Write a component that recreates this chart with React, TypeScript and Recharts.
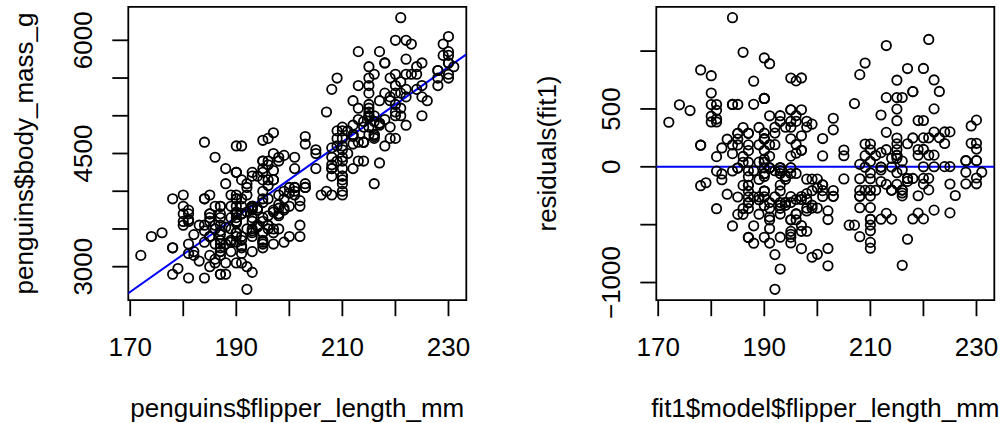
import React from 'react';
import {
  ScatterChart,
  Scatter,
  XAxis,
  YAxis,
  ReferenceLine,
  ReferenceArea,
} from 'recharts';

// [flipper_length_mm, body_mass_g], rows with NA dropped (as lm does)
const adelie: [number, number][] = [
  [181, 3750], [186, 3800], [195, 3250], [193, 3450], [190, 3650], [181, 3625], [195, 4675], [193, 3475], [190, 4250], [186, 3300],
  [180, 3700], [182, 3200], [191, 3800], [198, 4400], [185, 3700], [195, 3450], [197, 4500], [184, 3325], [194, 4200], [174, 3400],
  [180, 3600], [189, 3800], [185, 3950], [180, 3800], [187, 3800], [183, 3550], [187, 3200], [172, 3150], [180, 3950], [178, 3250],
  [178, 3900], [188, 3300], [184, 3900], [195, 3325], [196, 4150], [190, 3950], [180, 3550], [181, 3300], [184, 4650], [182, 3150],
  [195, 3900], [186, 3100], [196, 4400], [185, 3000], [190, 4600], [182, 3425], [179, 2975], [190, 3450], [191, 4150], [186, 3500],
  [188, 4300], [190, 3450], [200, 4050], [187, 2900], [191, 3700], [186, 3550], [193, 3800], [181, 2850], [194, 3750], [185, 3150],
  [195, 4400], [185, 3600], [192, 4050], [184, 2850], [192, 3950], [195, 3350], [188, 4100], [190, 3050], [198, 4450], [190, 3600],
  [190, 3900], [196, 3550], [197, 4150], [190, 3700], [195, 4250], [191, 3700], [184, 3900], [187, 3550], [195, 4000], [189, 3200],
  [196, 4700], [187, 3800], [193, 4200], [191, 3350], [194, 3550], [190, 3800], [189, 3500], [189, 3950], [190, 3600], [202, 3550],
  [205, 4300], [185, 3400], [186, 4450], [187, 3300], [208, 4300], [190, 3700], [196, 4350], [178, 2900], [192, 4100], [192, 3725],
  [203, 4725], [183, 3075], [190, 4250], [193, 2925], [184, 3550], [199, 3750], [190, 3900], [181, 3175], [197, 4775], [198, 3825],
  [191, 4600], [193, 3200], [197, 4275], [191, 3900], [196, 4075], [188, 2900], [199, 3775], [189, 3350], [189, 3325], [187, 3150],
  [198, 3500], [176, 3450], [202, 3875], [186, 3050], [199, 4000], [191, 3275], [195, 4300], [191, 3050], [210, 4000], [190, 3325],
  [197, 3500], [193, 3500], [199, 4475], [187, 3425], [190, 3900], [191, 3175], [200, 3975], [185, 3400], [193, 4250], [193, 3400],
  [187, 3475], [188, 3050], [190, 3725], [192, 3000], [185, 3650], [190, 4250], [184, 3475], [195, 3450], [193, 3750], [187, 3700],
  [201, 4000],
];

const gentoo: [number, number][] = [
  [211, 4500], [230, 5700], [210, 4450], [218, 5700], [215, 5400], [210, 4550], [211, 4800], [219, 5200], [209, 4400], [215, 5150],
  [214, 4650], [216, 5550], [214, 4650], [213, 5850], [210, 4200], [217, 5850], [210, 4150], [221, 6300], [209, 4800], [222, 5350],
  [218, 5700], [215, 5000], [213, 4400], [215, 5050], [215, 5000], [215, 5100], [216, 4100], [215, 5650], [210, 4600], [220, 5550],
  [222, 5250], [209, 4700], [207, 5050], [230, 6050], [220, 5150], [220, 5400], [213, 4950], [219, 5250], [208, 4350], [208, 5350],
  [208, 3950], [225, 5700], [210, 4300], [216, 4750], [222, 5550], [217, 4900], [210, 4200], [225, 5400], [213, 5100], [215, 5300],
  [210, 4850], [220, 5300], [210, 4400], [225, 5000], [217, 4900], [220, 5050], [208, 4300], [220, 5000], [208, 4450], [224, 5550],
  [208, 4200], [221, 5300], [214, 4400], [231, 5650], [219, 4700], [230, 5700], [214, 4650], [229, 5800], [220, 4700], [223, 5550],
  [216, 4750], [221, 5000], [221, 5100], [217, 5200], [216, 4700], [230, 5800], [209, 4600], [220, 6000], [215, 4750], [223, 5950],
  [212, 4625], [221, 5450], [212, 4725], [224, 5350], [212, 4750], [228, 5600], [218, 4600], [218, 5300], [212, 4875], [230, 5550],
  [218, 4950], [228, 5400], [212, 4750], [224, 5650], [214, 4850], [226, 5200], [216, 4925], [222, 4875], [203, 4625], [225, 5250],
  [219, 4850], [228, 5600], [215, 4975], [228, 5500], [216, 4725], [215, 5500], [210, 4700], [219, 5500], [208, 4575], [209, 5500],
  [216, 5000], [229, 5950], [213, 4650], [230, 5500], [217, 4375], [230, 5850], [217, 4875], [222, 6000], [214, 4925], [215, 4850],
  [222, 5750], [212, 5200], [213, 5400],
];

const chinstrap: [number, number][] = [
  [192, 3500], [196, 3900], [193, 3650], [188, 3525], [197, 3725], [198, 3950], [178, 3250], [197, 3750], [195, 4150], [198, 3700],
  [193, 3800], [194, 3775], [185, 3700], [201, 4050], [190, 3575], [201, 4050], [197, 3300], [181, 3700], [190, 3450], [195, 4400],
  [181, 3600], [191, 3400], [187, 2900], [193, 3800], [195, 3300], [197, 4150], [200, 3400], [200, 3800], [191, 3700], [205, 4550],
  [187, 3200], [201, 4300], [187, 3350], [203, 4100], [195, 3600], [199, 3900], [195, 3850], [210, 4800], [192, 2700], [205, 4500],
  [210, 3950], [187, 3650], [196, 3550], [196, 3500], [196, 3675], [201, 4450], [190, 3400], [212, 4300], [187, 3250], [198, 3675],
  [199, 3325], [201, 3950], [193, 3600], [203, 4050], [187, 3350], [197, 3450], [191, 3250], [203, 4050], [202, 3800], [194, 3525],
  [206, 3950], [189, 3650], [195, 3650], [207, 4000], [202, 3400], [193, 3775], [210, 4100], [198, 3775],
];

const flipperTicks = [170, 180, 190, 200, 210, 220, 230];
const flipperLabels = [170, 190, 210, 230];
const massTicks = [3000, 3500, 4000, 4500, 5000, 5500, 6000];
const massLabels = [3000, 4500, 6000];
const residTicks = [-1000, -500, 0, 500, 1000];
const residLabels = [-1000, 0, 500];

const penguins = [...adelie, ...gentoo, ...chinstrap].map(([flipper, mass]) => ({ flipper, mass }));

// fit1 <- lm(body_mass_g ~ flipper_length_mm)
const n = penguins.length;
const mx = penguins.reduce((s, p) => s + p.flipper, 0) / n;
const my = penguins.reduce((s, p) => s + p.mass, 0) / n;
const slope =
  penguins.reduce((s, p) => s + (p.flipper - mx) * (p.mass - my), 0) /
  penguins.reduce((s, p) => s + (p.flipper - mx) ** 2, 0);
const intercept = my - slope * mx;
const residData = penguins.map((p) => ({ flipper: p.flipper, resid: p.mass - (intercept + slope * p.flipper) }));

// base R pads the data range by 4% on each side
const rRange = (vals: number[]): [number, number] => {
  const lo = Math.min(...vals);
  const hi = Math.max(...vals);
  const pad = (hi - lo) * 0.04;
  return [lo - pad, hi + pad];
};
const xDomain = rRange(penguins.map((p) => p.flipper));
const massDomain = rRange(penguins.map((p) => p.mass));
const residDomain = rRange(residData.map((p) => p.resid));

const FONT = "'Liberation Sans', Arial, Helvetica, sans-serif";
const FS = 26;
const W = 503;
const H = 423;
const PLOT_TOP = 6.8;
const AXIS_H = 122.8;
const LINE_W = 1.8;

const fmt = (v: number) => (v < 0 ? '\u2212' + Math.abs(v) : String(v));

const xTick = (labels: number[]) => (props: any) => {
  const { x, y, payload } = props;
  if (!labels.includes(payload.value)) return <g />;
  return (
    <text x={x} y={y + 39.8} textAnchor="middle" fontFamily={FONT} fontSize={FS} fill="#000">
      {fmt(payload.value)}
    </text>
  );
};

const yTick = (labels: number[]) => (props: any) => {
  const { x, y, payload } = props;
  if (!labels.includes(payload.value)) return <g />;
  return (
    <text
      transform={`translate(${x - 20.8},${y}) rotate(-90)`}
      textAnchor="middle"
      fontFamily={FONT}
      fontSize={FS}
      fill="#000"
    >
      {fmt(payload.value)}
    </text>
  );
};

const xTitle = (text: string, left: number, width: number) => () => (
  <text x={left + width / 2} y={416.5} textAnchor="middle" fontFamily={FONT} fontSize={FS} fill="#000">
    {text}
  </text>
);

const yTitle = (text: string, baseX: number) => () => (
  <text
    transform={`translate(${baseX},${PLOT_TOP + (H - AXIS_H - PLOT_TOP) / 2}) rotate(-90)`}
    textAnchor="middle"
    fontFamily={FONT}
    fontSize={FS}
    fill="#000"
  >
    {text}
  </text>
);

const ring = (props: any) => (
  <circle cx={props.cx} cy={props.cy} r={4.7} fill="none" stroke="#000" strokeWidth={1.8} />
);

interface PanelProps {
  data: Array<{ [key: string]: number }>;
  yKey: string;
  yDomain: [number, number];
  yTicks: number[];
  yLabels: number[];
  yAxisWidth: number;
  rightMargin: number;
  xLabel: string;
  yLabel: string;
  yLabelX: number;
  children?: React.ReactNode;
}

const Panel: React.FC<PanelProps> = ({
  data,
  yKey,
  yDomain,
  yTicks,
  yLabels,
  yAxisWidth,
  rightMargin,
  xLabel,
  yLabel,
  yLabelX,
  children,
}) => {
  const plotW = W - yAxisWidth - rightMargin;
  return (
    <ScatterChart width={W} height={H} margin={{ top: PLOT_TOP, right: rightMargin, bottom: 0, left: 0 }}>
      <XAxis
        type="number"
        dataKey="flipper"
        domain={xDomain}
        allowDataOverflow
        ticks={flipperTicks}
        interval={0}
        height={AXIS_H}
        tickSize={16}
        tickMargin={0}
        axisLine={false}
        tickLine={{ stroke: '#000', strokeWidth: LINE_W }}
        tick={xTick(flipperLabels)}
        label={xTitle(xLabel, yAxisWidth, plotW)}
      />
      <YAxis
        type="number"
        dataKey={yKey}
        domain={yDomain}
        allowDataOverflow
        ticks={yTicks}
        interval={0}
        width={yAxisWidth}
        tickSize={16}
        tickMargin={0}
        axisLine={false}
        tickLine={{ stroke: '#000', strokeWidth: LINE_W }}
        tick={yTick(yLabels)}
        label={yTitle(yLabel, yLabelX)}
      />
      <ReferenceArea
        x1={xDomain[0]}
        x2={xDomain[1]}
        y1={yDomain[0]}
        y2={yDomain[1]}
        fill="none"
        fillOpacity={0}
        stroke="#000"
        strokeWidth={LINE_W}
        ifOverflow="visible"
      />
      <Scatter data={data} dataKey={yKey} shape={ring} isAnimationActive={false} />
      {children}
    </ScatterChart>
  );
};

export default function App() {
  return (
    <div style={{ position: 'absolute', left: 0, top: 0, width: 1006, height: H, background: '#fff' }}>
      <div style={{ position: 'absolute', left: 0, top: 0 }}>
        <Panel
          data={penguins}
          yKey="mass"
          yDomain={massDomain}
          yTicks={massTicks}
          yLabels={massLabels}
          yAxisWidth={128.3}
          rightMargin={36.7}
          xLabel="penguins$flipper_length_mm"
          yLabel="penguins$body_mass_g"
          yLabelX={33.2}
        >
          <ReferenceLine
            segment={[
              { x: xDomain[0], y: intercept + slope * xDomain[0] },
              { x: xDomain[1], y: intercept + slope * xDomain[1] },
            ]}
            stroke="#0000ff"
            strokeWidth={2}
            ifOverflow="hidden"
          />
        </Panel>
      </div>
      <div style={{ position: 'absolute', left: W, top: 0 }}>
        <Panel
          data={residData}
          yKey="resid"
          yDomain={residDomain}
          yTicks={residTicks}
          yLabels={residLabels}
          yAxisWidth={153.3}
          rightMargin={11.7}
          xLabel="fit1$model$flipper_length_mm"
          yLabel="residuals(fit1)"
          yLabelX={53}
        >
          <ReferenceLine y={0} stroke="#0000ff" strokeWidth={2} ifOverflow="hidden" />
        </Panel>
      </div>
    </div>
  );
}
